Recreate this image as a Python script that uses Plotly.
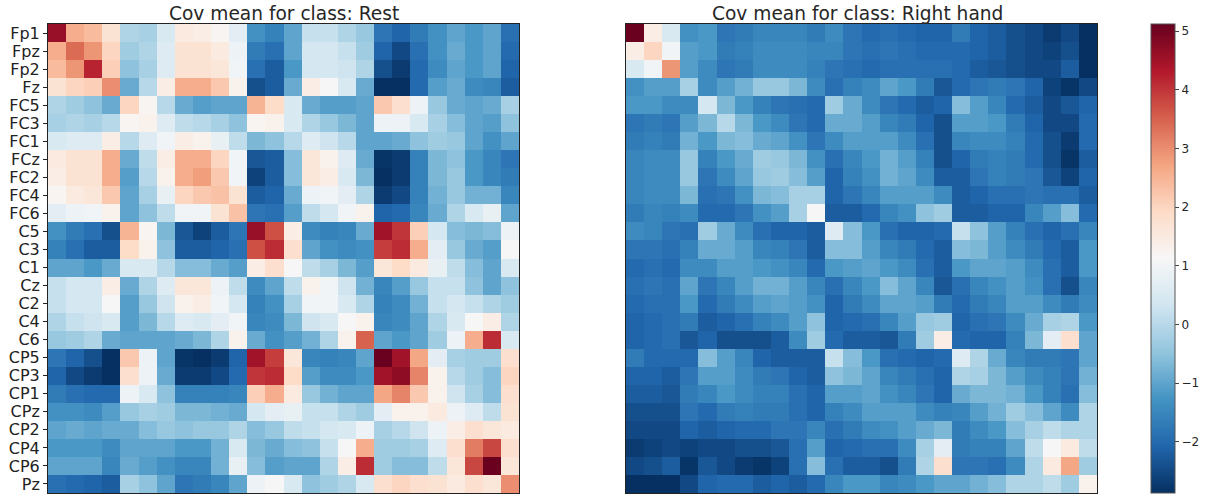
import plotly.graph_objects as go

channels = ["Fp1","Fpz","Fp2","Fz","FC5","FC3","FC1","FCz","FC2","FC4","FC6","C5","C3","C1","Cz","C2","C4","C6","CP5","CP3","CP1","CPz","CP2","CP4","CP6","Pz"]
title_rest = "Cov mean for class: Rest"
title_right = "Cov mean for class: Right hand"
colorbar_ticks = [-2,-1,0,1,2,3,4,5]

# upper triangles, one list per row, beginning at the diagonal
rest_upper = [
 [4.6,2.6,2.4,1.7,-.1,-.2,.5,1.5,1.4,1.2,.7,-1.3,-1.6,-1.0,.2,.2,-.1,-.4,-1.8,-2.1,-1.7,-1.3,-1.0,-1.2,-1.0,-1.9],
 [3.4,2.9,2.0,-.3,-.1,.6,1.7,1.7,1.5,.9,-1.7,-1.9,-1.0,.4,.4,.2,-.3,-2.1,-2.5,-1.9,-1.3,-.9,-1.2,-1.0,-2.0],
 [4.2,2.1,-.5,-.2,.6,1.7,1.7,1.6,1.0,-1.9,-2.2,-1.2,.4,.4,.3,-.1,-2.4,-2.7,-2.0,-1.4,-1.0,-1.2,-1.0,-2.1],
 [3.0,-.9,.0,1.4,2.6,2.6,2.2,1.3,-2.4,-2.2,-.9,1.4,1.1,.5,-.9,-2.9,-2.9,-2.0,-1.1,-.9,-1.4,-1.5,-2.2],
 [2.0,1.2,.0,-.9,-1.1,-1.0,-1.0,2.5,1.9,.5,-.9,-1.1,-1.1,-1.0,2.2,1.8,.9,-.4,-.9,-1.0,-.9,-.2],
 [1.3,.6,.1,.0,-.2,-.5,1.2,1.3,.5,-.1,-.4,-.7,-1.0,.9,.9,.5,-.2,-.6,-1.0,-1.1,-.5],
 [1.0,1.4,1.3,.8,.1,-.7,-.5,.0,.6,.3,.0,-1.0,-1.0,-.9,-.5,-.3,-.4,-1.0,-1.3,-1.0],
 [2.6,2.6,2.0,1.0,-2.3,-2.2,-.6,1.6,1.3,.6,-.9,-2.8,-2.7,-1.6,-.7,-.5,-1.2,-1.5,-1.8],
 [2.8,2.2,1.0,-2.6,-2.2,-.6,1.6,1.4,.5,-.7,-2.9,-2.7,-1.6,-.7,-.4,-1.2,-1.5,-1.7],
 [2.3,1.7,-2.2,-2.1,-.9,.9,1.0,.7,-.1,-2.7,-2.5,-1.6,-.8,-.4,-.8,-.8,-1.5],
 [2.3,-1.8,-1.9,-1.1,.1,.4,1.0,1.3,-2.1,-2.0,-1.5,-.9,-.1,.5,.8,-1.0],
 [4.6,3.7,1.4,-1.4,-1.6,-1.5,-.9,4.5,4.0,2.1,.4,-.6,-.7,-.6,.9],
 [4.1,1.8,-1.0,-1.3,-1.4,-1.3,3.9,4.1,2.6,.7,-.4,-.9,-1.1,1.1],
 [1.1,.1,-.2,-.7,-1.1,1.6,1.9,1.5,.8,.1,-.6,-1.0,.5],
 [1.3,1.0,.3,-.8,-1.5,-1.1,-.4,.2,.2,-.5,-1.0,-.5],
 [1.0,.5,-.1,-1.6,-1.4,-.8,.2,.4,.2,-.1,-.3],
 [1.1,1.3,-1.5,-1.4,-1.0,-.1,.5,1.1,1.4,-.1],
 [3.5,-1.0,-1.2,-1.0,-.3,.9,2.6,4.1,.5],
 [5.1,4.5,2.7,.7,-.2,-.3,-.3,1.8],
 [4.7,3.1,1.3,.0,-.3,-.6,2.0],
 [2.2,1.3,.3,-.2,-.6,1.8],
 [1.5,.9,.6,.1,1.7],
 [1.4,1.8,1.6,1.5],
 [3.2,3.8,1.8],
 [5.1,1.6],
 [3.0],
]

right_upper = [
 [5.1,1.4,.5,-1.3,-1.2,-1.8,-1.7,-1.5,-1.5,-1.5,-1.7,-1.4,-1.8,-2.0,-1.9,-2.0,-2.1,-2.1,-1.7,-2.1,-2.2,-2.4,-2.5,-2.7,-2.5,-2.9],
 [2.0,1.0,-1.1,-1.2,-1.7,-1.6,-1.4,-1.4,-1.4,-1.5,-1.5,-1.8,-1.9,-1.8,-1.9,-2.0,-2.0,-2.0,-2.1,-2.2,-2.4,-2.5,-2.6,-2.4,-2.9],
 [2.9,-1.1,-1.4,-1.8,-1.7,-1.4,-1.4,-1.4,-1.6,-1.8,-1.9,-2.0,-1.9,-1.9,-1.9,-1.9,-2.0,-2.2,-2.3,-2.4,-2.5,-2.5,-2.2,-2.9],
 [-.2,-1.4,-1.1,-.8,-.4,-.4,-.7,-1.4,-1.9,-1.6,-1.4,-1.0,-1.2,-1.7,-2.3,-2.0,-1.8,-1.7,-1.8,-2.1,-2.6,-2.8,-2.5],
 [.4,-.7,-1.2,-1.6,-1.8,-1.9,-2.0,-.3,-.9,-1.4,-1.8,-2.0,-2.2,-2.1,-.6,-1.1,-1.5,-2.0,-2.2,-2.5,-2.3,-2.1],
 [.0,-.7,-1.2,-1.4,-1.8,-2.0,-.9,-.9,-1.1,-1.5,-1.7,-2.1,-2.4,-1.1,-1.1,-1.2,-1.7,-2.1,-2.5,-2.5,-2.0],
 [-.6,-.9,-1.0,-1.3,-1.8,-1.4,-1.1,-1.1,-1.1,-1.4,-1.9,-2.4,-1.5,-1.4,-1.4,-1.6,-2.0,-2.4,-2.7,-2.0],
 [-.3,-.4,-.7,-1.3,-1.9,-1.5,-1.2,-.8,-1.1,-1.6,-2.4,-2.1,-1.7,-1.6,-1.7,-2.0,-2.4,-2.8,-2.2],
 [-.3,-.6,-1.1,-2.1,-1.6,-1.3,-.8,-1.0,-1.4,-2.2,-2.2,-1.8,-1.6,-1.7,-1.8,-2.3,-2.6,-2.1],
 [-.2,-.2,-2.1,-1.8,-1.5,-1.1,-1.1,-1.1,-1.4,-2.2,-2.1,-1.9,-1.9,-1.8,-1.9,-1.9,-2.2],
 [1.1,-2.2,-2.2,-2.0,-1.5,-1.3,-.5,-.3,-2.2,-2.2,-2.1,-2.1,-1.5,-1.1,-.6,-2.0],
 [.6,-.6,-1.2,-1.9,-2.1,-2.1,-2.0,.2,-.5,-1.1,-1.6,-1.9,-2.1,-1.9,-1.5],
 [-.6,-1.1,-1.5,-1.7,-2.0,-2.2,-.6,-.7,-1.1,-1.4,-1.7,-2.0,-2.2,-1.2],
 [-1.0,-1.2,-1.4,-1.9,-2.2,-1.2,-1.0,-1.0,-1.1,-1.4,-1.9,-2.2,-1.2],
 [-.6,-1.0,-1.5,-2.3,-1.9,-1.5,-1.3,-1.1,-1.3,-1.9,-2.4,-1.5],
 [-1.0,-1.1,-1.7,-2.0,-1.7,-1.5,-1.1,-1.1,-1.4,-1.7,-1.4],
 [-.4,-.3,-2.1,-1.9,-1.8,-1.4,-.9,-.2,-.1,-1.2],
 [1.4,-2.0,-2.1,-2.1,-1.6,-.7,.7,1.8,-1.0],
 [.6,-.1,-.9,-1.5,-1.7,-1.7,-1.8,-1.0],
 [-.2,-.7,-1.1,-1.4,-1.6,-1.8,-.8],
 [-.7,-.8,-1.2,-1.6,-1.9,-.6],
 [-.3,-.6,-1.0,-1.4,-.1],
 [-.2,.1,-.1,-.1],
 [1.1,1.5,.1],
 [2.7,-.3],
 [1.3],
]

def symmetric(upper):
    n = len(upper)
    m = [[0.0]*n for _ in range(n)]
    for i, row in enumerate(upper):
        for k, v in enumerate(row):
            m[i][i+k] = v
            m[i+k][i] = v
    return m

W, H = 1213, 500
PLOT_TOP, PLOT_BOTTOM = 24, 493
dom_y = [1-PLOT_BOTTOM/H, 1-PLOT_TOP/H]
TXT = "#262626"
FONT = "DejaVu Sans"

rdbu = [[0.0,"#053061"],[0.1,"#2166ac"],[0.2,"#4393c3"],[0.3,"#92c5de"],[0.4,"#d1e5f0"],[0.5,"#f7f7f7"],
        [0.6,"#fddbc7"],[0.7,"#f4a582"],[0.8,"#d6604d"],[0.9,"#b2182b"],[1.0,"#67001f"]]

fig = go.Figure()
fig.add_trace(go.Heatmap(z=symmetric(rest_upper), x=channels, y=channels, coloraxis="coloraxis", xaxis="x", yaxis="y", xgap=0, ygap=0))
fig.add_trace(go.Heatmap(z=symmetric(right_upper), x=channels, y=channels, coloraxis="coloraxis", xaxis="x2", yaxis="y2", xgap=0, ygap=0))

axis_common = dict(showgrid=False, zeroline=False, showline=True, linecolor="#222222", linewidth=1, mirror=True)
fig.update_layout(
    width=W, height=H, margin=dict(l=0, r=0, t=0, b=0),
    paper_bgcolor="white", plot_bgcolor="white",
    font=dict(family=FONT, color=TXT),
    xaxis=dict(domain=[48/W, 519/W], showticklabels=False, ticks="", **axis_common),
    xaxis2=dict(domain=[626/W, 1097/W], showticklabels=False, ticks="", **axis_common),
    yaxis=dict(domain=dom_y, autorange="reversed", anchor="x", tickmode="array", tickvals=channels, ticktext=channels,
               ticks="outside", ticklen=4, tickwidth=1, tickcolor="#222222", tickfont=dict(size=16, color="#222222"), **axis_common),
    yaxis2=dict(domain=dom_y, autorange="reversed", anchor="x2", showticklabels=False, ticks="", **axis_common),
    coloraxis=dict(cmin=-2.87, cmax=5.12, colorscale=rdbu,
        colorbar=dict(x=1151/W, xanchor="left", xpad=0, thickness=24, thicknessmode="pixels",
                      y=dom_y[0], yanchor="bottom", ypad=0, len=dom_y[1]-dom_y[0], lenmode="fraction",
                      tickmode="array", tickvals=colorbar_ticks, ticks="outside", ticklen=4, tickwidth=1,
                      tickcolor="#444444", tickfont=dict(size=12, color=TXT), outlinecolor="#555555", outlinewidth=1)),
    annotations=[
        dict(text=title_rest, xref="paper", yref="paper", x=(48+519)/2/W, y=1-25/H, xanchor="center", yanchor="bottom",
             showarrow=False, borderpad=0, font=dict(size=18.6, color=TXT)),
        dict(text=title_right, xref="paper", yref="paper", x=(626+1097)/2/W - 4/W, y=1-25/H, xanchor="center", yanchor="bottom",
             showarrow=False, borderpad=0, font=dict(size=18.6, color=TXT)),
    ],
)
fig.write_html("out.html", post_script="document.body.style.margin='0';", config={"displayModeBar": False})
